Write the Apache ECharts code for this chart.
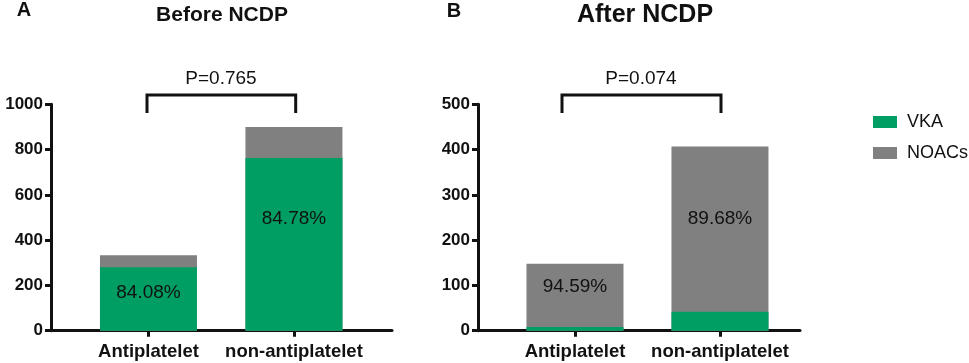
<!DOCTYPE html>
<html>
<head>
<meta charset="utf-8">
<script src="https://cdn.jsdelivr.net/npm/echarts@6/dist/echarts.min.js"></script>
<style>
    html, body {margin: 0; padding: 0; background: #fff;}
    #chart {width: 969px; height: 363px;}
</style>
</head>
<body>
<div id="chart"></div>
<script>
// data
var groups = ['Antiplatelet', 'non-antiplatelet'];
var vkaBefore = [280, 763];
var noacBefore = [53, 137];
var pctBefore = ['84.08%', '84.78%'];
var vkaAfter = [8, 42];
var noacAfter = [140, 365];
var pctAfter = ['94.59%', '89.68%'];
var pBefore = 'P=0.765';
var pAfter = 'P=0.074';

var FONT = '"Liberation Sans", Arial, Helvetica, sans-serif';
var GREEN = '#009e63';
var GREY = '#808080';

function makeAxes(idx, xMin, xMax, yMax, yStep) {
    var line = {show: true, onZero: false, lineStyle: {color: '#111', width: 3}};
    return {
        x: {
            type: 'value', gridIndex: idx, min: xMin, max: xMax,
            axisLine: line,
            axisTick: {show: true, length: 6, lineStyle: {color: '#111', width: 3}, customValues: [0, 1]},
            axisLabel: {
                show: true, customValues: [0, 1], margin: 12,
                fontFamily: FONT, fontSize: 18.5, fontWeight: 'bold', color: '#111',
                formatter: function (v) { return groups[Math.round(v)]; }
            },
            splitLine: {show: false}
        },
        y: {
            type: 'value', gridIndex: idx, min: 0, max: yMax, interval: yStep,
            axisLine: line,
            axisTick: {show: true, length: 6, lineStyle: {color: '#111', width: 3}},
            axisLabel: {
                margin: 8, fontFamily: FONT, fontSize: 17, fontWeight: 'bold', color: '#111',
                formatter: function (v) { return String(v); }
            },
            splitLine: {show: false}
        }
    };
}

function makeSeries(idx, vka, noac, pct, labelAt) {
    return [
        {
            name: 'NOACs', type: 'bar', xAxisIndex: idx, yAxisIndex: idx,
            barWidth: 97, barGap: '-100%', itemStyle: {color: GREY},
            data: groups.map(function (g, i) { return [i, vka[i] + noac[i]]; })
        },
        {
            name: 'VKA', type: 'bar', xAxisIndex: idx, yAxisIndex: idx,
            barWidth: 97, barGap: '-100%', itemStyle: {color: GREEN},
            data: groups.map(function (g, i) { return [i, vka[i]]; }),
            markPoint: {
                symbol: 'rect', symbolSize: 0, silent: true,
                label: {show: true, formatter: '{b}', fontFamily: FONT, fontSize: 19, color: '#111'},
                data: pct.map(function (p, i) { return {name: p, coord: [i, labelAt[i]]}; })
            }
        }
    ];
}

var axA = makeAxes(0, -0.670, 1.674, 1000, 200);
var axB = makeAxes(1, -0.669, 1.552, 500, 100);

function txt(x, y, s, size, weight) {
    return {
        type: 'text', x: x, y: y, silent: true,
        style: {text: s, fontFamily: FONT, fontSize: size, fontWeight: weight, fill: '#111',
            align: 'center', verticalAlign: 'middle'}
    };
}
function bracket(x1, x2) {
    return {
        type: 'polyline', silent: true,
        shape: {points: [[x1, 113], [x1, 95], [x2, 95], [x2, 113]]},
        style: {stroke: '#111', lineWidth: 3, fill: null}
    };
}

var myChart = echarts.init(document.getElementById('chart'));
var option = {
    backgroundColor: '#fff',
    animation: false,
    grid: [
        {left: 51, top: 104.3, width: 341, height: 226.4},
        {left: 478, top: 104.3, width: 322, height: 226.4}
    ],
    xAxis: [axA.x, axB.x],
    yAxis: [axA.y, axB.y],
    legend: {
        data: ['VKA', 'NOACs'], orient: 'vertical', left: 868, top: 108,
        icon: 'rect', itemWidth: 24, itemHeight: 12, itemGap: 13,
        textStyle: {fontFamily: FONT, fontSize: 18, color: '#111', padding: [0, 0, 0, 5]}
    },
    graphic: [
        txt(24, 10, 'A', 20, 'bold'),
        txt(222, 15, 'Before NCDP', 21, 'bold'),
        txt(454, 11, 'B', 20, 'bold'),
        txt(645, 15, 'After NCDP', 25, 'bold'),
        txt(221, 79, pBefore, 19, 'normal'),
        txt(641, 79, pAfter, 19, 'normal'),
        bracket(147, 295.7),
        bracket(562, 721)
    ],
    series: makeSeries(0, vkaBefore, noacBefore, pctBefore, [167, 494])
        .concat(makeSeries(1, vkaAfter, noacAfter, pctAfter, [97, 247]))
};
myChart.setOption(option);
</script>
</body>
</html>
